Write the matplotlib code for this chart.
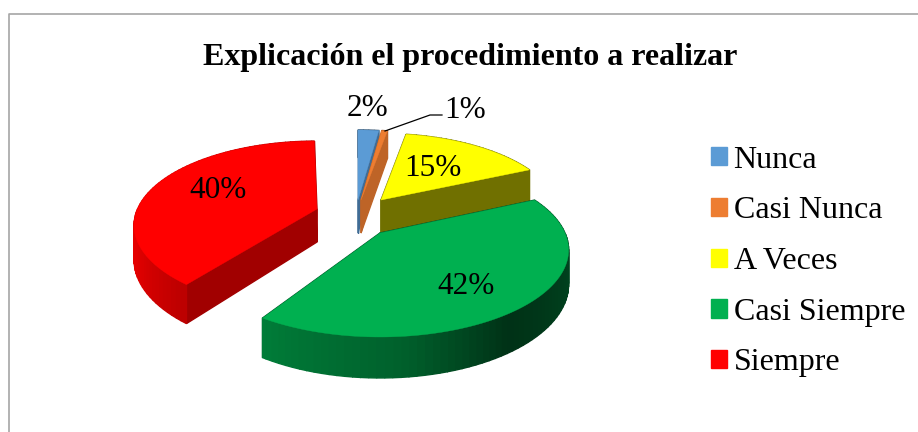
#!/usr/bin/env python
import numpy as np
import matplotlib
matplotlib.use("Agg")
import matplotlib.pyplot as plt
from matplotlib.colors import to_rgb
from matplotlib.patches import Patch, Polygon

categories = ["Nunca", "Casi Nunca", "A Veces", "Casi Siempre", "Siempre"]
percents = [2, 1, 15, 42, 40]
labels = ["2%", "1%", "15%", "42%", "40%"]
colors = ["#5B9BD5", "#ED7D31", "#FFFF00", "#00B050", "#FF0000"]
title = "Explicación el procedimiento a realizar"

# layout of the fake 3d pie, in image pixels
apexes = [(358, 200), (361, 200), (381, 200), (380, 233), (317, 209)]
radius_scale = [1.0, 1.0, 0.95, 1.0, 0.97]
cut_shade = [0.7, 0.8, 0.44, 0.45, 0.63]
label_pos = [(368, 109), (465, 110), (433, 169), (466, 287), (218, 190)]
draw_order = [4, 2, 0, 1, 3]
# perspective makes the cut lines sit a little off the true angle
start_nudge = [1.0, 1.5, 0.0, 1.0, 3.0]
end_nudge = [1.5, 0.0, 2.0, -3.0, 0.0]
START = -1.0
RADIUS = 185.0
SQUASH = 83.7
PERSP = 0.195
DEPTH = 33.0

plt.rcParams["font.family"] = ["Liberation Serif", "DejaVu Serif"]


def project(apex, scale, deg):
    t = np.radians(deg)
    u, v = np.sin(t), np.cos(t)
    p = 1 / (1 + PERSP * v)
    return apex[0] + RADIUS * scale * u * p, apex[1] - SQUASH * scale * v * p, p


def rim_shade(deg):
    return np.interp(deg % 360, [0, 90, 145, 175, 215, 250, 290, 360],
                     [0.5, 0.42, 0.28, 0.55, 0.72, 0.9, 0.88, 0.7])


def darker(color, f):
    return tuple(c * f for c in to_rgb(color))


fig = plt.figure(figsize=(9.18, 4.32), dpi=100)
ax = fig.add_axes([0, 0, 1, 1])
ax.set_xlim(0, 918)
ax.set_ylim(432, 0)
ax.axis("off")

# chart frame, only left and top show in the crop
ax.plot([8.5, 8.5, 918], [432, 13.5, 13.5], color="#A6A6A6", lw=1.2)

edges = np.cumsum([0] + percents) * 3.6 + START

for i in draw_order:
    apex = apexes[i]
    a0 = edges[i] + start_nudge[i]
    a1 = edges[i + 1] + end_nudge[i]
    angles = np.append(np.arange(a0, a1, 2.0), a1)
    pts = [project(apex, radius_scale[i], a) for a in angles]
    top = [(apex[0], apex[1], 1.0)] + pts
    faces = []
    for j in range(len(pts) - 1):
        mid = (angles[j] + angles[j + 1]) / 2
        faces.append((pts[j], pts[j + 1], rim_shade(mid)))
    faces.append((top[0], pts[0], cut_shade[i]))
    faces.append((pts[-1], top[0], cut_shade[i]))
    faces.sort(key=lambda f: f[0][1] + f[1][1])
    for a, b, shade in faces:
        c = darker(colors[i], shade)
        quad = [(a[0], a[1]), (b[0], b[1]),
                (b[0], b[1] + DEPTH * b[2]), (a[0], a[1] + DEPTH * a[2])]
        ax.add_patch(Polygon(quad, closed=True, fc=c, ec=c, lw=1.0))
    ax.add_patch(Polygon([(p[0], p[1]) for p in top], closed=True,
                         fc=colors[i], ec=colors[i], lw=0.3))

for lab, (x, y) in zip(labels, label_pos):
    ax.text(x, y, lab, fontsize=22.5, ha="center", va="center", color="black")

# leader line of the 1% label
ax.plot([385, 430, 442], [131, 115, 115], color="black", lw=0.9)

ax.text(470.5, 58, title, fontsize=23, fontweight="bold", ha="center", va="center")

handles = [Patch(fc=c, ec=c, label=n) for c, n in zip(colors, categories)]
ax.legend(handles=handles, loc="upper left", bbox_to_anchor=(701 / 918, 1 - 136 / 432),
          frameon=False, fontsize=23, handlelength=0.5, handleheight=0.5,
          handletextpad=0.22, labelspacing=0.68, borderpad=0, borderaxespad=0.3)

fig.savefig("out.png", dpi=100)
